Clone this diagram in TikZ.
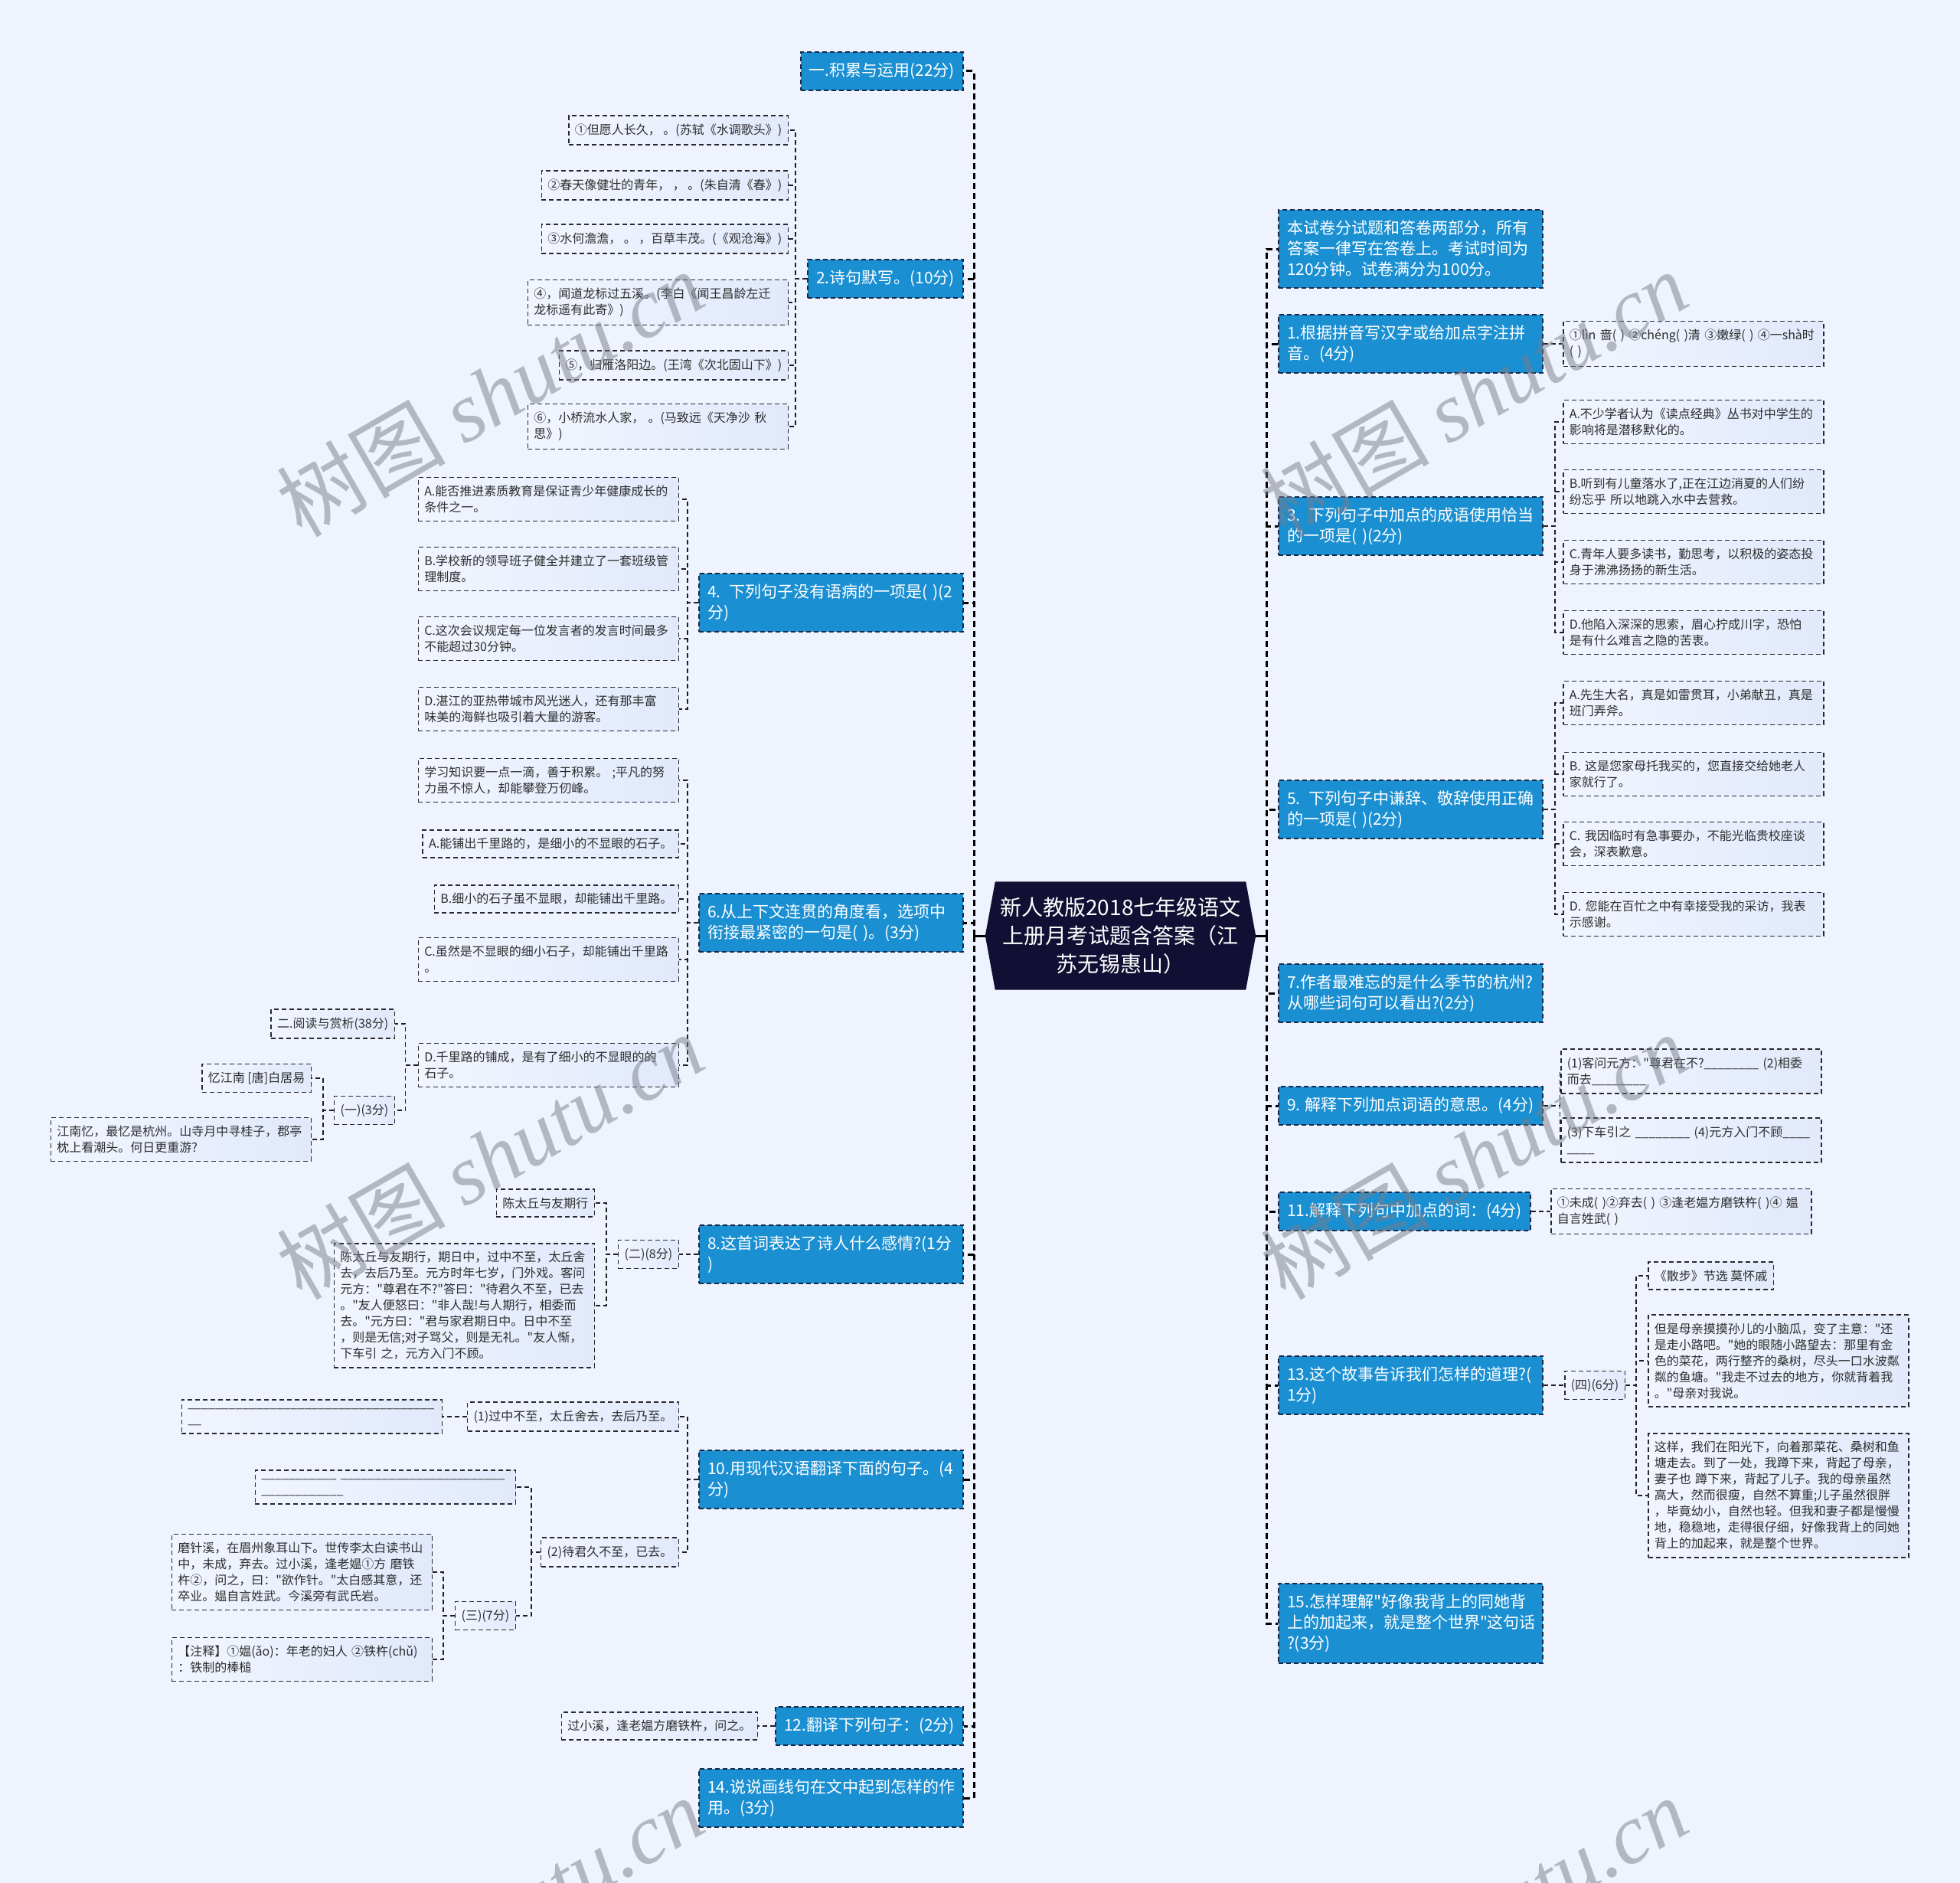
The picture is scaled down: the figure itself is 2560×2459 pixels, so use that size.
\documentclass[tikz,border=0pt]{standalone}
\usepackage{fontspec}
\setmainfont{Noto Sans CJK SC}[Ligatures=TeXOff]
\newfontfamily\wmlatin{Liberation Serif}
\usetikzlibrary{calc}
\definecolor{bgc}{RGB}{238,243,253}
\definecolor{mainblue}{RGB}{26,143,210}
\definecolor{mainborder}{RGB}{25,40,70}
\definecolor{leafL}{RGB}{241,245,254}
\definecolor{leafR}{RGB}{225,233,251}
\definecolor{leafborder}{RGB}{40,40,45}
\definecolor{leaftext}{RGB}{45,45,45}
\definecolor{rootc}{RGB}{17,15,51}
\definecolor{wmc}{RGB}{120,125,135}
\definecolor{linec}{RGB}{30,30,35}
\pgfdeclarelayer{bg}
\pgfsetlayers{bg,main}
\begin{document}
\begin{tikzpicture}[x=1pt,y=-1pt,
  mainbox/.style={draw=mainborder, line width=2pt, dash pattern=on 6pt off 4pt, fill=mainblue, text=white,
    font=\fontsize{21}{27}\selectfont, inner xsep=11pt, inner ysep=14pt, align=left},
  mainw/.style={mainbox, text width=323pt},
  leaf/.style={draw=leafborder, line width=1.5pt, dash pattern=on 6pt off 4pt, left color=leafL, right color=leafR,
    text=leaftext, font=\fontsize{16}{21}\selectfont, inner xsep=8pt, inner ysep=10.5pt, align=left},
  leafw/.style={leaf, text width=324pt},
  rootbox/.style={minimum width=353pt, minimum height=141pt, text width=330pt, align=center, text=white,
    font=\fontsize{28}{37}\selectfont, inner sep=0pt},
  trunk/.style={draw=black, line width=3pt, dash pattern=on 8pt off 5pt},
  conn/.style={draw=linec, line width=1.6pt, dash pattern=on 6pt off 4pt},
  wm/.style={text=wmc, opacity=0.5, font=\fontsize{110}{110}\selectfont, inner sep=0pt}
]
\useasboundingbox (0,0) rectangle (2560,2459);
\begin{pgfonlayer}{bg}
\fill[bgc] (0,0) rectangle (2560,2459);
\end{pgfonlayer}
\clip (0,0) rectangle (2560,2459);

% root
\node[rootbox] (root) at (1463.5,1222) {新人教版2018七年级语文\\上册月考试题含答案（江\\苏无锡惠山）};
\begin{pgfonlayer}{bg}
\fill[rootc] (root.west) -- ([xshift=13pt]root.north west) -- ([xshift=-13pt]root.north east) -- (root.east)
  -- ([xshift=-13pt]root.south east) -- ([xshift=13pt]root.south west) -- cycle;
\end{pgfonlayer}
\coordinate (ltr) at (1272,1222);
\coordinate (rtr) at (1654,1222);

% ---------------- left side ----------------
\node[mainbox, anchor=east] (n1) at (1259,93) {一.积累与运用(22分)};
\node[mainbox, anchor=east] (n2) at (1259,364) {2.诗句默写。(10分)};
\node[leaf, anchor=east] (l21) at (1030,170) {①但愿人长久， 。(苏轼《水调歌头》)};
\node[leaf, anchor=east] (l22) at (1030,242) {②春天像健壮的青年， ， 。(朱自清《春》)};
\node[leaf, anchor=east] (l23) at (1030,312) {③水何澹澹， 。 ，百草丰茂。(《观沧海》)};
\node[leafw, anchor=east] (l24) at (1030,395) {④，闻道龙标过五溪。(李白《闻王昌龄左迁\\龙标遥有此寄》)};
\node[leaf, anchor=east] (l25) at (1030,477) {⑤，归雁洛阳边。(王湾《次北固山下》)};
\node[leafw, anchor=east] (l26) at (1030,557) {⑥，小桥流水人家， 。(马致远《天净沙 秋\\思》)};

\node[mainw, anchor=east] (n4) at (1259,787) {4. 下列句子没有语病的一项是( )(2\\分)};
\node[leafw, anchor=east] (l4a) at (887,652) {A.能否推进素质教育是保证青少年健康成长的\\条件之一。};
\node[leafw, anchor=east] (l4b) at (887,743) {B.学校新的领导班子健全并建立了一套班级管\\理制度。};
\node[leafw, anchor=east] (l4c) at (887,834) {C.这次会议规定每一位发言者的发言时间最多\\不能超过30分钟。};
\node[leafw, anchor=east] (l4d) at (887,926) {D.湛江的亚热带城市风光迷人，还有那丰富\\味美的海鲜也吸引着大量的游客。};

\node[mainw, anchor=east] (n6) at (1259,1205) {6.从上下文连贯的角度看，选项中\\衔接最紧密的一句是( )。(3分)};
\node[leafw, anchor=east] (l6s) at (887,1019) {学习知识要一点一滴，善于积累。 ;平凡的努\\力虽不惊人，却能攀登万仞峰。};
\node[leaf, anchor=east] (l6a) at (887,1102) {A.能铺出千里路的，是细小的不显眼的石子。};
\node[leaf, anchor=east] (l6b) at (887,1174) {B.细小的石子虽不显眼，却能铺出千里路。};
\node[leafw, anchor=east] (l6c) at (887,1253) {C.虽然是不显眼的细小石子，却能铺出千里路\\。};
\node[leafw, anchor=east] (l6d) at (887,1391) {D.千里路的铺成，是有了细小的不显眼的的\\石子。};
\node[leaf, anchor=east] (s2) at (516,1337) {二.阅读与赏析(38分)};
\node[leaf, anchor=east] (p1) at (516,1450) {(一)(3分)};
\node[leaf, anchor=east] (p1a) at (407,1408) {忆江南 [唐]白居易};
\node[leafw, anchor=east] (p1b) at (407,1488) {江南忆，最忆是杭州。山寺月中寻桂子，郡亭\\枕上看潮头。何日更重游?};

\node[mainw, anchor=east] (n8) at (1259,1638) {8.这首词表达了诗人什么感情?(1分\\)};
\node[leaf, anchor=east] (p2) at (887,1638) {(二)(8分)};
\node[leaf, anchor=east] (p2a) at (777,1571) {陈太丘与友期行};
\node[leafw, anchor=east] (p2b) at (777,1705) {陈太丘与友期行，期日中，过中不至，太丘舍\\去，去后乃至。元方时年七岁，门外戏。客问\\元方："尊君在不?"答曰："待君久不至，已去\\。"友人便怒曰："非人哉!与人期行，相委而\\去。"元方曰："君与家君期日中。日中不至\\，则是无信;对子骂父，则是无礼。"友人惭，\\下车引 之，元方入门不顾。};

\node[mainw, anchor=east] (n10) at (1259,1932) {10.用现代汉语翻译下面的句子。(4\\分)};
\node[leaf, anchor=east] (t1) at (887,1850) {(1)过中不至，太丘舍去，去后乃至。};
\node[leafw, anchor=east] (t1a) at (578,1850) {\_\_\_\_\_\_\_\_\_\_\_\_\_\_\_\_\_\_\_\_\_\_\_\_\_\_\_\_\_\_\_\_\_\_\_\_\\\_\_};
\node[leaf, anchor=east] (t2) at (887,2027) {(2)待君久不至，已去。};
\node[leafw, anchor=east] (t2a) at (674,1942) {\_\_\_\_\_\_\_\_\_\_\_~\_\_\_\_\_\_\_\_\_\_\_\_\_\_\_\_\_\_\_\_\_\_\_\_\\\_\_\_\_\_\_\_\_\_\_\_\_};
\node[leaf, anchor=east] (p3) at (674,2110) {(三)(7分)};
\node[leafw, anchor=east] (p3a) at (565,2053) {磨针溪，在眉州象耳山下。世传李太白读书山\\中，未成，弃去。过小溪，逢老媪①方 磨铁\\杵②，问之，曰："欲作针。"太白感其意，还\\卒业。媪自言姓武。今溪旁有武氏岩。};
\node[leafw, anchor=east] (p3b) at (565,2167) {【注释】①媪(ǎo)：年老的妇人 ②铁杵(chǔ)\\：铁制的棒槌};

\node[mainbox, anchor=east] (n12) at (1259,2254) {12.翻译下列句子：(2分)};
\node[leaf, anchor=east] (n12a) at (990,2254) {过小溪，逢老媪方磨铁杵，问之。};
\node[mainw, anchor=east] (n14) at (1259,2348) {14.说说画线句在文中起到怎样的作\\用。(3分)};

% ---------------- right side ----------------
\node[mainw, anchor=west] (r0) at (1669,325) {本试卷分试题和答卷两部分，所有\\答案一律写在答卷上。考试时间为\\120分钟。试卷满分为100分。};
\node[mainw, anchor=west] (r1) at (1669,449) {1.根据拼音写汉字或给加点字注拼\\音。(4分)};
\node[leafw, anchor=west] (r1a) at (2041,449) {①lìn~啬(~)~②chéng(~)清~③嫩绿(~)~④一shà时\\(~)};
\node[mainw, anchor=west] (r3) at (1669,687) {3. 下列句子中加点的成语使用恰当\\的一项是( )(2分)};
\node[leafw, anchor=west] (r3a) at (2041,551) {A.不少学者认为《读点经典》丛书对中学生的\\影响将是潜移默化的。};
\node[leafw, anchor=west] (r3b) at (2041,642) {B.听到有儿童落水了,正在江边消夏的人们纷\\纷忘乎 所以地跳入水中去营救。};
\node[leafw, anchor=west] (r3c) at (2041,734) {C.青年人要多读书，勤思考，以积极的姿态投\\身于沸沸扬扬的新生活。};
\node[leafw, anchor=west] (r3d) at (2041,826) {D.他陷入深深的思索，眉心拧成川字，恐怕\\是有什么难言之隐的苦衷。};
\node[mainw, anchor=west] (r5) at (1669,1057) {5. 下列句子中谦辞、敬辞使用正确\\的一项是( )(2分)};
\node[leafw, anchor=west] (r5a) at (2041,918) {A.先生大名，真是如雷贯耳，小弟献丑，真是\\班门弄斧。};
\node[leafw, anchor=west] (r5b) at (2041,1011) {B. 这是您家母托我买的，您直接交给她老人\\家就行了。};
\node[leafw, anchor=west] (r5c) at (2041,1102) {C. 我因临时有急事要办，不能光临贵校座谈\\会，深表歉意。};
\node[leafw, anchor=west] (r5d) at (2041,1194) {D. 您能在百忙之中有幸接受我的采访，我表\\示感谢。};
\node[mainw, anchor=west] (r7) at (1669,1297) {7.作者最难忘的是什么季节的杭州?\\从哪些词句可以看出?(2分)};
\node[mainbox, anchor=west] (r9) at (1669,1444) {9. 解释下列加点词语的意思。(4分)};
\node[leafw, anchor=west] (r9a) at (2038,1399) {(1)客问元方："尊君在不?\_\_\_\_\_\_\_\_~(2)相委\\而去\_\_\_\_\_\_\_\_};
\node[leafw, anchor=west] (r9b) at (2038,1489) {(3)下车引之~\_\_\_\_\_\_\_\_~(4)元方入门不顾\_\_\_\_\\\_\_\_\_};
\node[mainbox, anchor=west] (r11) at (1669,1582) {11.解释下列句中加点的词：(4分)};
\node[leafw, anchor=west] (r11a) at (2025,1582) {①未成(~)②弃去(~)~③逢老媪方磨铁杵(~)④~媪\\自言姓武(~)};
\node[mainw, anchor=west] (r13) at (1669,1809) {13.这个故事告诉我们怎样的道理?(\\1分)};
\node[leaf, anchor=west] (r13p) at (2043,1809) {(四)(6分)};
\node[leaf, anchor=west] (r13a) at (2152,1666) {《散步》节选 莫怀戚};
\node[leafw, anchor=west] (r13b) at (2152,1777) {但是母亲摸摸孙儿的小脑瓜，变了主意："还\\是走小路吧。"她的眼随小路望去：那里有金\\色的菜花，两行整齐的桑树，尽头一口水波粼\\粼的鱼塘。"我走不过去的地方，你就背着我\\。"母亲对我说。};
\node[leafw, anchor=west] (r13c) at (2152,1953) {这样，我们在阳光下，向着那菜花、桑树和鱼\\塘走去。到了一处，我蹲下来，背起了母亲，\\妻子也 蹲下来，背起了儿子。我的母亲虽然\\高大，然而很瘦，自然不算重;儿子虽然很胖\\，毕竟幼小，自然也轻。但我和妻子都是慢慢\\地，稳稳地，走得很仔细，好像我背上的同她\\背上的加起来，就是整个世界。};
\node[mainw, anchor=west] (r15) at (1669,2120) {15.怎样理解"好像我背上的同她背\\上的加起来，就是整个世界"这句话\\?(3分)};

% ---------------- connectors ----------------
\draw[line width=3pt] (root.west) -- (ltr);
\draw[line width=3pt] (root.east) -- (rtr);
\foreach \c in {n1,n2,n4,n6,n8,n10,n12,n14}
  \draw[trunk] (ltr) |- (\c.east);
\foreach \c in {r0,r1,r3,r5,r7,r9,r11,r13,r15}
  \draw[trunk] (rtr) |- (\c.west);

\foreach \c in {l21,l22,l23,l24,l25,l26}
  \draw[conn] (n2.west) -- ++(-15,0) |- (\c.east);
\foreach \c in {l4a,l4b,l4c,l4d}
  \draw[conn] (n4.west) -- ++(-14,0) |- (\c.east);
\foreach \c in {l6s,l6a,l6b,l6c,l6d}
  \draw[conn] (n6.west) -- ++(-14,0) |- (\c.east);
\foreach \c in {s2,p1}
  \draw[conn] (l6d.west) -- ++(-16,0) |- (\c.east);
\foreach \c in {p1a,p1b}
  \draw[conn] (p1.west) -- ++(-14,0) |- (\c.east);
\draw[conn] (n8.west) -- (p2.east);
\foreach \c in {p2a,p2b}
  \draw[conn] (p2.west) -- ++(-15,0) |- (\c.east);
\foreach \c in {t1,t2}
  \draw[conn] (n10.west) -- ++(-14,0) |- (\c.east);
\draw[conn] (t1.west) -- (t1a.east);
\foreach \c in {t2a,p3}
  \draw[conn] (t2.west) -- ++(-12,0) |- (\c.east);
\foreach \c in {p3a,p3b}
  \draw[conn] (p3.west) -- ++(-15,0) |- (\c.east);
\draw[conn] (n12.west) -- (n12a.east);

\draw[conn] (r1.east) -- (r1a.west);
\foreach \c in {r3a,r3b,r3c,r3d}
  \draw[conn] (r3.east) -- ++(15,0) |- (\c.west);
\foreach \c in {r5a,r5b,r5c,r5d}
  \draw[conn] (r5.east) -- ++(15,0) |- (\c.west);
\foreach \c in {r9a,r9b}
  \draw[conn] (r9.east) -- ++(22,0) |- (\c.west);
\draw[conn] (r11.east) -- (r11a.west);
\draw[conn] (r13.east) -- (r13p.west);
\foreach \c in {r13a,r13b,r13c}
  \draw[conn] (r13p.east) -- ++(14,0) |- (\c.west);

% ---------------- watermarks ----------------
\node[wm, rotate=30] (wm1) at (640,514) {树图 {\wmlatin\itshape shutu.cn}};
\node[wm, rotate=30] (wm2) at (1925,514) {树图 {\wmlatin\itshape shutu.cn}};
\node[wm, rotate=30] (wm3) at (640,1510) {树图 {\wmlatin\itshape shutu.cn}};
\node[wm, rotate=30] (wm4) at (1925,1510) {树图 {\wmlatin\itshape shutu.cn}};
\node[wm, rotate=30] (wm5) at (640,2507) {树图 {\wmlatin\itshape shutu.cn}};
\node[wm, rotate=30] (wm6) at (1925,2507) {树图 {\wmlatin\itshape shutu.cn}};
\end{tikzpicture}
\end{document}
